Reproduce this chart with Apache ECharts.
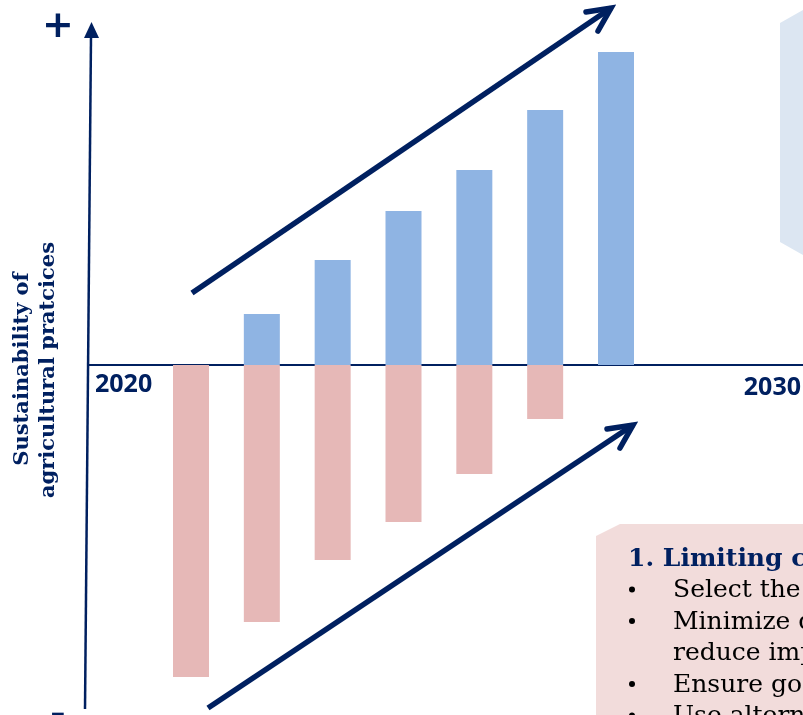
<!DOCTYPE html>
<html>
<head>
<meta charset="utf-8">
<script src="https://cdn.jsdelivr.net/npm/echarts@6/dist/echarts.min.js"></script>
<style>
  html, body { margin: 0; padding: 0; background: #ffffff; }
  #chart { width: 803px; height: 715px; }
</style>
</head>
<body>
<div id="chart"></div>
<script>
// Seven time steps between 2020 and 2030
const steps = [0, 1, 2, 3, 4, 5, 6];
// Gains in sustainability (above the line)
const gains = [null, 51, 105, 154, 195, 255, 313];
// Remaining negative impacts (below the line)
const impacts = [-312, -257, -195, -157, -109, -54, null];
// Period labels at both ends of the time line
const yearLabels = ['2020', '2030'];
// Axis title, one entry per line
const axisTitle = ['Sustainability of', 'agricultural pratcices'];
// Text panel content
const panelHeading = '1. Limiting chemical inputs';
const panelBullets = [
  ['Select the appropriate products'],
  ['Minimize doses and', 'reduce impacts'],
  ['Ensure good practices'],
  ['Use alternative methods']
];

const NAVY = '#002060';
const chart = echarts.init(document.getElementById('chart'), null, { renderer: 'canvas' });

// bullet panel text (y values are baselines; text is centred 8px above)
const panelText = [];
let lineY = 568;
panelText.push({
  type: 'text', x: 628, y: lineY - 9, z: 5,
  style: { text: panelHeading, fill: NAVY, font: 'bold 25px "DejaVu Serif"', align: 'left', verticalAlign: 'middle' }
});
panelBullets.forEach(function (item) {
  item.forEach(function (line, k) {
    lineY += 31.5;
    if (k === 0) {
      panelText.push({ type: 'circle', z: 5, shape: { cx: 632, cy: lineY - 10, r: 3 }, style: { fill: '#000' } });
    }
    panelText.push({
      type: 'text', x: 673, y: lineY - 9, z: 5,
      style: { text: line, fill: '#000', font: '25px "DejaVu Serif"', align: 'left', verticalAlign: 'middle' }
    });
  });
});

function arrow(x1, y1, x2, y2, a1, a2) {
  return [
    { type: 'line', z: 4, shape: { x1: x1, y1: y1, x2: x2, y2: y2 },
      style: { stroke: NAVY, lineWidth: 5.5, lineCap: 'butt' } },
    { type: 'polyline', z: 4, shape: { points: [a1, [x2, y2], a2] },
      style: { stroke: NAVY, lineWidth: 5.5, lineCap: 'round', lineJoin: 'miter', fill: null } }
  ];
}

const option = {
  animation: false,
  backgroundColor: '#ffffff',
  grid: { left: 89, right: 0, top: 0, bottom: 0 },
  xAxis: {
    type: 'value', min: -1.44, max: 8.64,
    axisLine: { show: true, onZero: true, lineStyle: { color: NAVY, width: 2 } },
    axisTick: { show: false }, axisLabel: { show: false }, splitLine: { show: false }
  },
  yAxis: {
    type: 'value', min: -350, max: 365, show: false,
    splitLine: { show: false }
  },
  series: [
    {
      type: 'bar', barWidth: 36, z: 2,
      itemStyle: { color: '#e6b8b7' },
      data: steps.map(function (s, i) { return [s, impacts[i]]; })
    },
    {
      type: 'bar', barWidth: 36, barGap: '-100%', z: 3,
      itemStyle: { color: '#8fb4e3' },
      data: steps.map(function (s, i) { return [s, gains[i]]; })
    }
  ],
  graphic: [
    // background panels
    { type: 'polygon', z: -10, shape: { points: [[780, 23], [803, 10], [810, 10], [810, 258], [803, 255], [780, 242]] },
      style: { fill: '#dce6f2' } },
    { type: 'polygon', z: 1, shape: { points: [[596, 536], [620, 524], [810, 524], [810, 720], [596, 720]] },
      style: { fill: '#f2dcdb' } },
    // vertical axis with arrow head
    { type: 'line', z: 4, shape: { x1: 85, y1: 709, x2: 91, y2: 36 }, style: { stroke: NAVY, lineWidth: 2.5 } },
    { type: 'polygon', z: 4, shape: { points: [[91.5, 22], [84, 38], [99, 38]] }, style: { fill: NAVY } },
    { type: 'text', x: 58, y: 27, z: 4,
      style: { text: '+', fill: NAVY, font: 'bold 38px "DejaVu Sans"', align: 'center', verticalAlign: 'middle' } },
    { type: 'text', x: 58, y: 716, z: 4,
      style: { text: '-', fill: NAVY, font: 'bold 38px "DejaVu Sans"', align: 'center', verticalAlign: 'middle' } },
    // period labels
    { type: 'text', x: 95, y: 385, z: 4,
      style: { text: yearLabels[0], fill: NAVY, font: 'bold 25px "Open Sans"', align: 'left', verticalAlign: 'middle' } },
    { type: 'text', x: 801, y: 388, z: 4,
      style: { text: yearLabels[1], fill: NAVY, font: 'bold 25px "Open Sans"', align: 'right', verticalAlign: 'middle' } },
    // axis title
    { type: 'text', x: 23, y: 369, rotation: Math.PI / 2, z: 4,
      style: { text: axisTitle[0], fill: NAVY, font: 'bold 21px "DejaVu Serif"', align: 'center', verticalAlign: 'middle' } },
    { type: 'text', x: 49, y: 370, rotation: Math.PI / 2, z: 4,
      style: { text: axisTitle[1], fill: NAVY, font: 'bold 21px "DejaVu Serif"', align: 'center', verticalAlign: 'middle' } }
  ]
    .concat(arrow(192, 293, 611, 8, [586, 12], [598, 31]))
    .concat(arrow(208, 708, 633, 425, [607, 429], [620, 448]))
    .concat(panelText)
};

chart.setOption(option);
</script>
</body>
</html>
